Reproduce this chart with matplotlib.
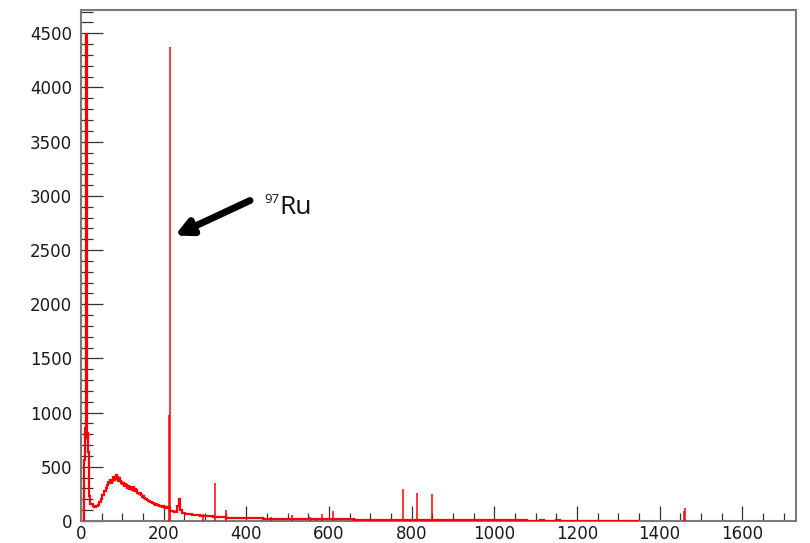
import numpy as np
import matplotlib
matplotlib.use("Agg")
import matplotlib.pyplot as plt
from matplotlib.ticker import MultipleLocator

# ---- data (counts per bin) ----
# low-energy region, 1 keV bins starting at 6 keV
low_start = 6
c_low = [0, 140, 560, 800, 860, 790, 1970, 4490, 880, 770, 820, 700, 640, 420,
         230, 175, 160, 165]
# 4 keV bins starting at 24 keV
a_start = 24
c_a = [160, 135, 128, 140, 150, 172, 205, 240, 280]
# 2 keV bins starting at 60 keV (Compton bump)
b_start = 60
c_b = [300, 325, 335, 360, 350, 378, 352, 390, 370, 410,
       375, 398, 420, 380, 402, 365, 395, 372, 355, 372,
       338, 352, 320, 340, 315, 335, 300, 322, 296, 318,
       285, 305, 290, 310, 275, 298, 270, 285, 258, 262,
       245, 255, 232, 240, 222, 228, 210, 215, 200, 206,
       192, 188, 182, 186, 172, 176, 165, 168, 158, 162,
       150, 156, 145, 150, 138, 145, 135, 140, 128, 134,
       125, 132, 122, 130, 120, 126, 118, 122]
# 4 keV bins starting at 216 keV
c_start = 216
c_c = [96, 92, 86, 82, 140, 205, 105, 78, 72, 68,
       66, 62, 60, 58, 59, 54, 52, 53, 50, 48,
       49, 45, 44, 43, 42, 46, 40, 39, 37, 36,
       36, 34, 33, 35, 32, 31, 30, 31, 29, 28,
       29, 27, 27, 28, 26, 26]
# 10 keV bins starting at 400 keV
high_start = 400
c_high = [26, 25, 24, 25, 23, 22, 23, 21, 21, 20,
          20, 22, 19, 18, 19, 18, 17, 18, 17, 17,
          17, 16, 15, 15, 14, 14, 13, 13, 13, 12,
          12, 12, 11, 11, 11, 10, 11, 11, 10, 10,
          9, 9, 9, 9, 9, 8, 8, 8, 8, 8,
          7, 7, 7, 7, 7, 6, 6, 6, 6, 6,
          5, 5, 5, 5, 5, 5, 5, 5, 4, 4,
          4, 5, 4, 4, 4, 5, 4, 4, 4, 4,
          4, 4, 3, 3, 3, 4, 3, 3, 3, 3,
          3, 2, 3, 2, 3]

# gamma lines (keV, counts)
peak_e = [214, 215, 296, 324, 352, 460, 511, 555, 569, 583, 609,
          778, 812, 850, 911, 965, 1120, 1238, 1460, 1461]
peak_h = [980, 4370, 62, 355, 100, 38, 55, 40, 32, 65, 92,
          296, 255, 245, 22, 18, 14, 12, 95, 120]

x_major = 200
y_major = 500

# ---- figure ----
W, H = 810, 543
fig = plt.figure(figsize=(W / 100, H / 100), dpi=100)
ax = fig.add_axes([81 / W, 1 - 521 / H, (796 - 81) / W, (521 - 10) / H])

counts = np.array(c_low + c_a + c_b + c_c + c_high, dtype=float)
edges = np.concatenate([
    low_start + np.arange(len(c_low)),
    a_start + 4 * np.arange(len(c_a)),
    b_start + 2 * np.arange(len(c_b)),
    c_start + 4 * np.arange(len(c_c)),
    high_start + 10 * np.arange(len(c_high) + 1),
])
ax.stairs(counts, edges, color="red", lw=1.6, zorder=3)
ax.vlines(peak_e, 0, peak_h, color="red", lw=1.1, zorder=3)

ax.set_xlim(0, 1730)
ax.set_ylim(0, 4715)

ax.xaxis.set_major_locator(MultipleLocator(x_major))
ax.xaxis.set_minor_locator(MultipleLocator(50))
ax.yaxis.set_major_locator(MultipleLocator(y_major))
ax.yaxis.set_minor_locator(MultipleLocator(100))

ax.tick_params(axis="both", which="both", direction="in", color="#333333",
               width=0.9, labelsize=12, labelcolor="#1a1a1a")
ax.tick_params(axis="y", which="major", length=16, pad=6.5)
ax.tick_params(axis="y", which="minor", length=8.5)
ax.tick_params(axis="x", which="major", length=11, pad=3)
ax.tick_params(axis="x", which="minor", length=6)

for s in ax.spines.values():
    s.set_color("#7a7a7a")
    s.set_linewidth(1.5)

# annotation
ax.annotate("", xy=(227, 2634), xytext=(409, 2957),
            arrowprops=dict(arrowstyle="-|>", lw=5, color="black",
                            mutation_scale=24, shrinkA=0, shrinkB=0))
ax.text(443, 2935, "97", fontsize=9.5, family="Open Sans", va="baseline",
        ha="left", color="#111111")
ax.text(481, 2837, "Ru", fontsize=19, family="Open Sans", va="baseline",
        ha="left", color="#111111")

fig.savefig("out.png", dpi=100)
